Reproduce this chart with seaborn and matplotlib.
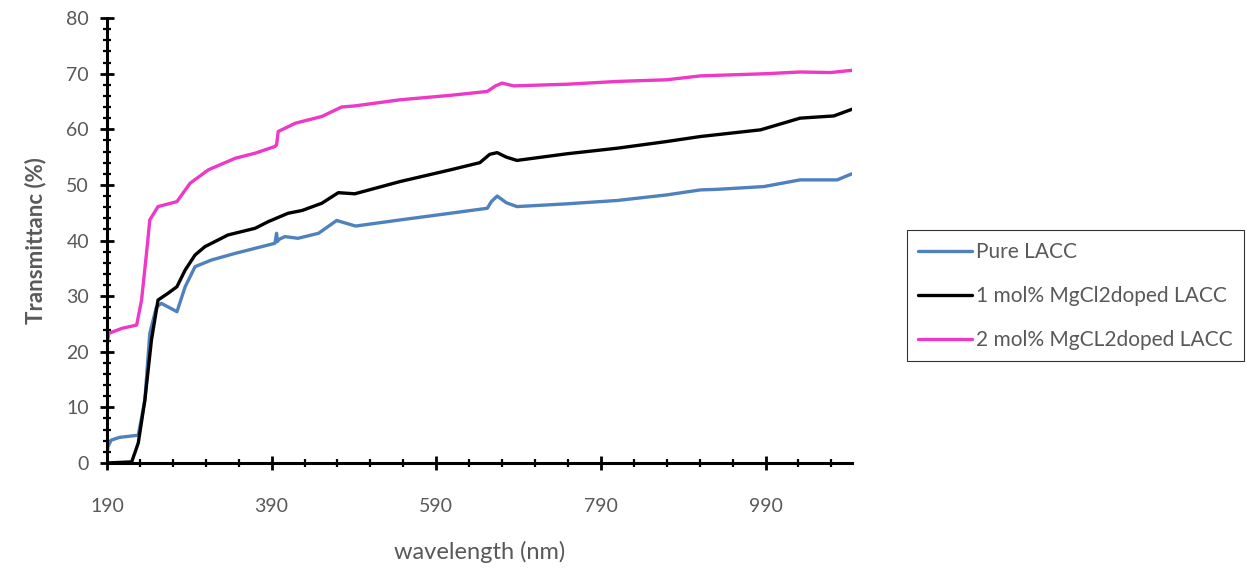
import pandas as pd
import numpy as np
import matplotlib.pyplot as plt
import seaborn as sns
from matplotlib.ticker import MultipleLocator, FixedLocator

# values
wl_pure = [190, 191, 195, 205, 228, 236, 242, 250, 256, 265, 275, 285, 297, 317, 346, 370, 394, 396,
           397, 399, 406, 422, 447, 469, 492, 546, 607, 652, 657, 664, 675, 688, 749, 810, 870, 911,
           931, 988, 1032, 1077, 1095]
t_pure = [0.5, 2.9, 4.1, 4.6, 5.0, 11.3, 23.3, 28.0, 28.7, 28.0, 27.2, 31.7, 35.3, 36.5, 37.7, 38.6, 39.5,
          41.3, 39.8, 40.2, 40.7, 40.4, 41.3, 43.6, 42.6, 43.7, 44.9, 45.8, 47.0, 48.0, 46.8, 46.1,
          46.6, 47.2, 48.2, 49.1, 49.2, 49.7, 50.9, 50.9, 52.0]

wl_1mol = [190, 220, 228, 236, 244, 252, 264, 275, 285, 297, 309, 337, 370, 386, 410, 427, 451, 471,
           491, 546, 607, 643, 655, 664, 675, 688, 749, 810, 870, 911, 984, 1032, 1073, 1095]
t_1mol = [0.0, 0.2, 3.6, 11.3, 22.1, 29.3, 30.5, 31.7, 34.7, 37.4, 38.9, 41.0, 42.2, 43.4, 44.9, 45.4,
          46.7, 48.6, 48.4, 50.6, 52.7, 54.0, 55.5, 55.8, 55.0, 54.4, 55.6, 56.6, 57.8, 58.7, 59.9,
          62.0, 62.4, 63.6]

wl_2mol = [190, 192, 208, 226, 232, 238, 242, 252, 275, 291, 313, 346, 370, 394, 396, 398, 419, 451,
           475, 491, 546, 607, 652, 662, 670, 684, 749, 810, 870, 911, 992, 1032, 1069, 1095]
t_2mol = [20.9, 23.3, 24.2, 24.8, 29.3, 37.7, 43.7, 46.1, 47.0, 50.3, 52.7, 54.8, 55.7, 56.9, 57.2,
          59.6, 61.1, 62.3, 64.0, 64.2, 65.3, 66.1, 66.8, 67.8, 68.3, 67.8, 68.1, 68.6, 68.9, 69.6,
          70.0, 70.3, 70.2, 70.6]

labels = ["Pure LACC", "1 mol% MgCl2doped LACC", "2 mol% MgCL2doped LACC"]
colors = ["#4F81BD", "#000000", "#EE38C6"]

df = pd.concat([
    pd.DataFrame({"wavelength": wl_pure, "T": t_pure, "sample": labels[0]}),
    pd.DataFrame({"wavelength": wl_1mol, "T": t_1mol, "sample": labels[1]}),
    pd.DataFrame({"wavelength": wl_2mol, "T": t_2mol, "sample": labels[2]}),
], ignore_index=True)

sns.set_style("white")
plt.rcParams['font.family'] = ['Lato', 'DejaVu Sans']
grey = "#595959"

fig = plt.figure(figsize=(12.47, 5.69), dpi=100)
ax = fig.add_axes([0.0858, 0.1863, 0.5974, 0.782])

sns.lineplot(data=df, x="wavelength", y="T", hue="sample", palette=colors,
             linewidth=2.4, sort=False, estimator=None, ax=ax, legend=False)

ax.set_xlim(190, 1095)
ax.set_ylim(0, 80)
ax.xaxis.set_major_locator(FixedLocator([190, 390, 590, 790, 990]))
ax.xaxis.set_minor_locator(MultipleLocator(40, offset=30))
ax.yaxis.set_major_locator(MultipleLocator(10))
ax.yaxis.set_minor_locator(MultipleLocator(2))

for s in ["top", "right"]:
    ax.spines[s].set_visible(False)
for s in ["left", "bottom"]:
    ax.spines[s].set_color("black")
    ax.spines[s].set_linewidth(2.2)

ax.tick_params(axis="both", which="both", bottom=True, left=True)
ax.tick_params(axis="both", which="major", direction="inout", length=10, width=2,
               color="black", labelcolor=grey, labelsize=14)
ax.tick_params(axis="both", which="minor", direction="inout", length=6, width=1.6, color="black")
ax.tick_params(axis="x", which="major", pad=20)
ax.tick_params(axis="y", which="major", pad=8)

ax.set_xlabel("wavelength (nm)", color=grey, fontsize=17, labelpad=19)
ax.set_ylabel("Transmittanc (%)", color=grey, fontsize=16, fontweight="bold", labelpad=14)

handles = [plt.Line2D([0], [0], color=c, lw=2.4) for c in colors]
leg = fig.legend(handles, labels, loc="center left", bbox_to_anchor=(0.727, 0.48),
                 frameon=True, fancybox=False, fontsize=15, handlelength=2.6,
                 handletextpad=0.2, labelspacing=1.15, borderpad=0.55, borderaxespad=0)
leg.get_frame().set_edgecolor("black")
leg.get_frame().set_linewidth(0.8)
for t in leg.get_texts():
    t.set_color(grey)

fig.savefig("out.png", dpi=100)
